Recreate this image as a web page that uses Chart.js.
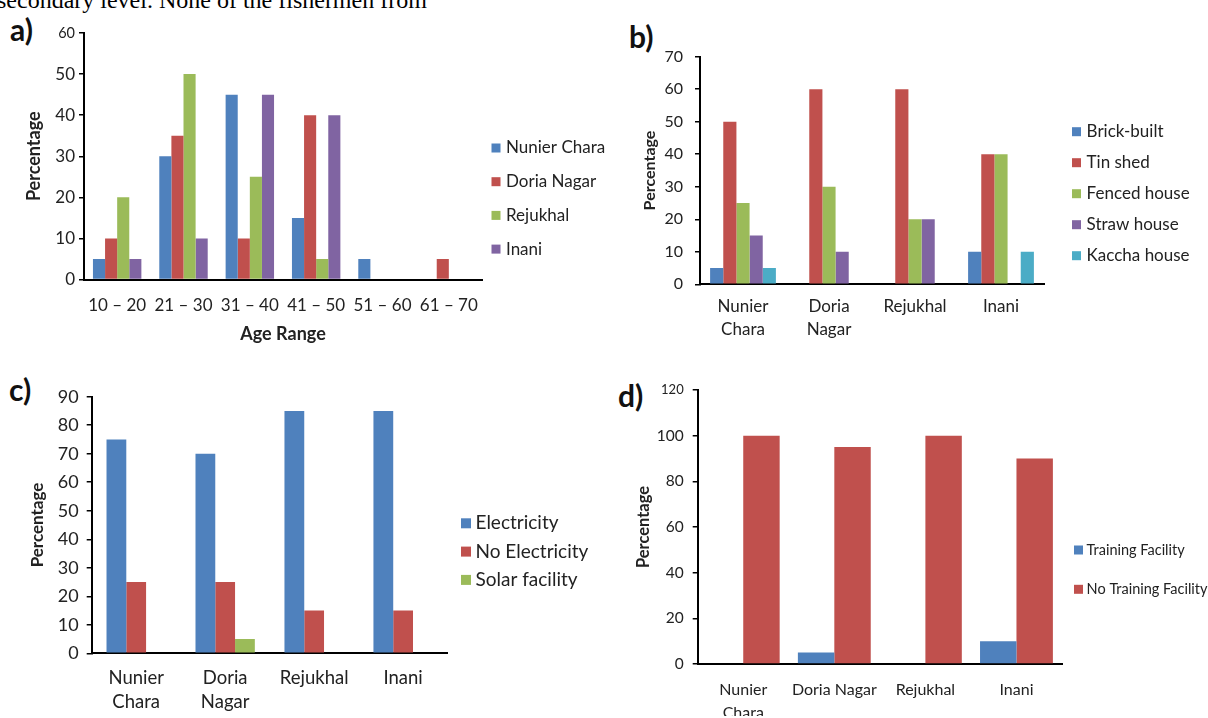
<!DOCTYPE html>
<html>
<head>
<meta charset="utf-8">
<script src="https://cdn.jsdelivr.net/npm/chart.js@4.4.0/dist/chart.umd.min.js"></script>
<style>
  html, body { margin: 0; padding: 0; background: #fff; }
  body { width: 1208px; height: 718px; position: relative; overflow: hidden; font-family: Lato, sans-serif; }
  canvas { position: absolute; left: 0; top: 0; }
  .tag { position: absolute; font: bold 30px Lato, sans-serif; line-height: 30px; color: #111; }
  #topline { position: absolute; left: -3px; top: -12px; font: 24px "Liberation Serif", serif; line-height: 24px;
             word-spacing: 0px; white-space: nowrap; color: #000; }
</style>
</head>
<body>
<div id="topline">secondary level. None of the fishermen from</div>
<div class="tag" style="left:10px;top:14px">a)</div>
<div class="tag" style="left:629px;top:21px">b)</div>
<div class="tag" style="left:9px;top:374px">c)</div>
<div class="tag" style="left:618px;top:380px">d)</div>
<canvas id="chartA" width="1208" height="718"></canvas>
<canvas id="chartB" width="1208" height="718"></canvas>
<canvas id="chartC" width="1208" height="718"></canvas>
<canvas id="chartD" width="1208" height="718"></canvas>
<script>
// a) age range of fishermen per site
const ageRanges = ['10 – 20', '21 – 30', '31 – 40', '41 – 50', '51 – 60', '61 – 70'];
const siteNames = ['Nunier Chara', 'Doria Nagar', 'Rejukhal', 'Inani'];
const ageNunier = [5, 30, 45, 15, 5, 0];
const ageDoria = [10, 35, 10, 40, 0, 5];
const ageRejukhal = [20, 50, 25, 5, 0, 0];
const ageInani = [5, 10, 45, 40, 0, 0];

// b) house type per site
const siteLabels = [['Nunier', 'Chara'], ['Doria', 'Nagar'], 'Rejukhal', 'Inani'];
const houseTypes = ['Brick-built', 'Tin shed', 'Fenced house', 'Straw house', 'Kaccha house'];
const brickBuilt = [5, 0, 0, 10];
const tinShed = [50, 60, 60, 40];
const fencedHouse = [25, 30, 20, 40];
const strawHouse = [15, 10, 20, 0];
const kacchaHouse = [5, 0, 0, 10];

// c) electricity
const powerTypes = ['Electricity', 'No Electricity', 'Solar facility'];
const electricity = [75, 70, 85, 85];
const noElectricity = [25, 25, 15, 15];
const solarFacility = [0, 5, 0, 0];

// d) training
const siteLabelsD = [['Nunier', 'Chara'], 'Doria Nagar', 'Rejukhal', 'Inani'];
const trainingTypes = ['Training Facility', 'No Training Facility'];
const training = [0, 5, 0, 10];
const noTraining = [100, 95, 100, 90];

const palette = ['#4F81BD', '#C0504D', '#9BBB59', '#8064A2', '#4BACC6'];
const ink = '#222';

// legend drawn as a plain column of square swatches
const boxLegend = {
  id: 'boxLegend',
  afterDraw(chart, args, o) {
    const ctx = chart.ctx;
    ctx.save();
    ctx.font = o.size + 'px Lato, sans-serif';
    ctx.textBaseline = 'middle';
    chart.data.datasets.forEach((ds, i) => {
      const y = o.y + i * o.gap;
      ctx.fillStyle = ds.backgroundColor;
      ctx.fillRect(o.x, y - o.box / 2, o.box, o.box);
      ctx.fillStyle = ink;
      ctx.fillText(ds.label, o.textX, y);
    });
    ctx.restore();
  }
};

function panel(id, p) {
  return new Chart(document.getElementById(id), {
    type: 'bar',
    data: {
      labels: p.labels,
      datasets: p.names.map((name, i) => ({
        label: name,
        data: p.values[i],
        backgroundColor: palette[i],
        categoryPercentage: p.cat,
        barPercentage: 1
      }))
    },
    options: {
      responsive: false,
      animation: false,
      events: [],
      layout: { padding: { left: p.padL, top: p.top, right: 1208 - p.xEnd, bottom: 718 - p.zero - p.xH } },
      scales: {
        x: {
          afterFit: s => { s.height = p.xH; },
          grid: { display: false, drawTicks: false },
          border: { display: true, color: '#000', width: 2 },
          ticks: {
            color: ink, padding: p.xPad, maxRotation: 0, autoSkip: false,
            font: { family: 'Lato', size: p.xSize, lineHeight: p.xLine }
          },
          title: {
            display: !!p.xTitle, text: p.xTitle || '', color: ink, padding: 0,
            font: { family: 'Lato', size: 18, weight: 'bold' }
          }
        },
        y: {
          min: 0, max: p.max,
          afterFit: s => { s.width = p.axisX - p.padL; },
          grid: { drawOnChartArea: false, drawTicks: true, tickLength: 5, color: '#000', lineWidth: 1.5 },
          border: { display: true, color: '#000', width: 2 },
          ticks: {
            stepSize: p.step, padding: p.yPad, color: ink,
            font: c => ({ family: 'Lato', size: c.tick && c.tick.value === p.max ? p.topSize : p.tickSize })
          },
          title: {
            display: true, text: 'Percentage', color: ink, padding: 0,
            font: { family: 'Lato', size: p.titleSize, weight: 'bold' }
          }
        }
      },
      plugins: {
        legend: { display: false },
        tooltip: { enabled: false },
        boxLegend: p.legend
      }
    },
    plugins: [boxLegend]
  });
}

panel('chartA', {
  labels: ageRanges, names: siteNames,
  values: [ageNunier, ageDoria, ageRejukhal, ageInani],
  padL: 23, axisX: 84, top: 33, zero: 279.5, xEnd: 482, xH: 65,
  max: 60, step: 10, yPad: 4, tickSize: 17, topSize: 14.5, titleSize: 18,
  xSize: 17, xLine: 1.2, xPad: 16, xTitle: 'Age Range', cat: 0.73,
  legend: { x: 491.5, textX: 506, y: 148, gap: 33.7, size: 17, box: 9 }
});

panel('chartB', {
  labels: siteLabels, names: houseTypes,
  values: [brickBuilt, tinShed, fencedHouse, strawHouse, kacchaHouse],
  padL: 640, axisX: 700, top: 56.7, zero: 284.3, xEnd: 1044, xH: 60,
  max: 70, step: 10, yPad: 12, tickSize: 16, topSize: 16, titleSize: 16,
  xSize: 17, xLine: 1.35, xPad: 11.2, cat: 0.765,
  legend: { x: 1072, textX: 1086.6, y: 131.7, gap: 31, size: 17, box: 9 }
});

panel('chartC', {
  labels: siteLabels, names: powerTypes,
  values: [electricity, noElectricity, solarFacility],
  padL: 27.4, axisX: 91.7, top: 396.7, zero: 653.3, xEnd: 447.6, xH: 60,
  max: 90, step: 10, yPad: 8, tickSize: 18, topSize: 18, titleSize: 17,
  xSize: 18.5, xLine: 1.27, xPad: 13.2, cat: 0.667,
  legend: { x: 461, textX: 475.5, y: 523.3, gap: 28.3, size: 19, box: 10 }
});

panel('chartD', {
  labels: siteLabelsD, names: trainingTypes,
  values: [training, noTraining],
  padL: 633.5, axisX: 697.7, top: 390, zero: 664, xEnd: 1062, xH: 52,
  max: 120, step: 20, yPad: 9, tickSize: 15.5, topSize: 13, titleSize: 16.5,
  xSize: 16, xLine: 1.42, xPad: 14.6, cat: 0.8,
  legend: { x: 1074, textX: 1086.6, y: 550, gap: 39.3, size: 14.5, box: 9 }
});
</script>
</body>
</html>
